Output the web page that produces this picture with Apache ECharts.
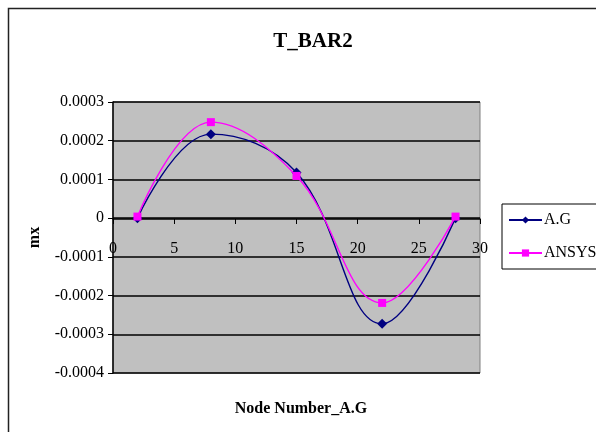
<!DOCTYPE html>
<html>
<head>
<meta charset="utf-8">
<script src="https://cdn.jsdelivr.net/npm/echarts@6/dist/echarts.min.js"></script>
<style>
html,body{margin:0;padding:0;background:#fff;}
#c{width:596px;height:432px;}
</style>
</head>
<body>
<div id="c"></div>
<script>
const nodes = [2, 8, 15, 22, 28];
const agValues = [0, 0.000217, 0.000118, -0.000273, 0];
const ansysValues = [0.000004, 0.000248, 0.000109, -0.000219, 0.000004];
const seriesNames = ['A.G', 'ANSYS'];
const chartTitle = 'T_BAR2';
const xTitle = 'Node Number_A.G';
const yTitle = 'mx';

const font = '"Liberation Serif", "Times New Roman", serif';
const chart = echarts.init(document.getElementById('c'), null, {renderer: 'canvas'});
const fmtY = v => {
  const r = Number(v.toFixed(4));
  return r === 0 ? '0' : r.toFixed(4);
};
chart.setOption({
  animation: false,
  backgroundColor: '#fff',
  textStyle: {fontFamily: font},
  title: [
    {text: chartTitle, left: 308, top: 26, textAlign: 'center',
     textStyle: {fontFamily: font, fontWeight: 'bold', fontSize: 21, color: '#000'}},
    {text: xTitle, left: 296, top: 396, textAlign: 'center',
     textStyle: {fontFamily: font, fontWeight: 'bold', fontSize: 16, color: '#000'}}
  ],
  graphic: [
    {type: 'rect', shape: {x: 8.5, y: 8.5, width: 700, height: 500},
     style: {fill: null, stroke: '#222', lineWidth: 1.5}, z: 100, silent: true}
  ],
  legend: {
    orient: 'vertical', left: 502, top: 204,
    data: seriesNames,
    borderColor: '#000', borderWidth: 1,
    padding: [8, 12, 8, 6],
    itemWidth: 33, itemHeight: 9, itemGap: 17,
    textStyle: {fontFamily: font, fontSize: 16, color: '#000', padding: [0, 0, 0, -3]}
  },
  grid: {
    left: 113, right: 116, top: 102, bottom: 59,
    show: true, backgroundColor: '#C0C0C0', borderColor: '#808080', borderWidth: 1,
    containLabel: false
  },
  xAxis: {
    type: 'value', min: 0, max: 30, interval: 5,
    position: 'bottom', offset: -154,
    axisLine: {onZero: false, lineStyle: {color: '#000', width: 1.5}},
    axisTick: {show: true, length: 5, lineStyle: {color: '#000'}},
    axisLabel: {fontFamily: font, fontSize: 16, color: '#000', margin: 22},
    splitLine: {show: false}
  },
  yAxis: {
    type: 'value', min: -0.0004, max: 0.0003, interval: 0.0001,
    name: yTitle, nameLocation: 'middle', nameGap: 70, nameRotate: 90,
    nameTextStyle: {fontFamily: font, fontWeight: 'bold', fontSize: 16, color: '#000'},
    axisLine: {show: true, onZero: false, lineStyle: {color: '#000', width: 1.5}},
    axisTick: {show: true, length: 5, lineStyle: {color: '#000'}},
    axisLabel: {fontFamily: font, fontSize: 16, color: '#000', margin: 9, formatter: fmtY},
    splitLine: {show: true, lineStyle: {color: '#000', width: 1.5}}
  },
  series: [
    {name: seriesNames[0], type: 'line', smooth: 0.4,
     data: nodes.map((x, i) => [x, agValues[i]]),
     symbol: 'diamond', symbolSize: 10,
     lineStyle: {color: '#000080', width: 1.4},
     itemStyle: {color: '#000080'}, z: 3},
    {name: seriesNames[1], type: 'line', smooth: 0.4,
     data: nodes.map((x, i) => [x, ansysValues[i]]),
     symbol: 'rect', symbolSize: 8,
     lineStyle: {color: '#FF00FF', width: 1.4},
     itemStyle: {color: '#FF00FF'}, z: 4}
  ]
});
</script>
</body>
</html>
